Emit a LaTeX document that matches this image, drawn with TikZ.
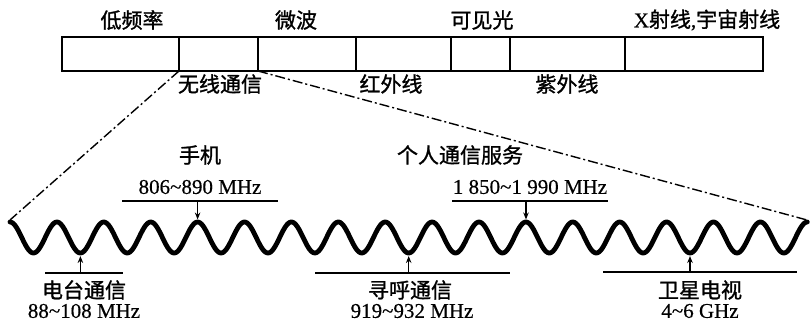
\documentclass[tikz,border=0pt]{standalone}
\usepackage{fontspec}
\setmainfont{Liberation Serif}[FakeBold=0.4]
\newfontfamily\cjk{Noto Sans CJK SC}[FakeBold=1.2]
\usetikzlibrary{arrows.meta}
\begin{document}
\begin{tikzpicture}[x=1pt,y=-1pt,
  cn/.style={font=\cjk\fontsize{21}{21}\selectfont, inner sep=0pt},
  en/.style={font=\fontsize{21}{21}\selectfont, inner sep=0pt},
  band/.style={draw, line width=1.7pt},
  zoomline/.style={line width=1.4pt, dash pattern=on 10pt off 3pt on 2pt off 3pt},
  tick/.style={line width=1.5pt},
  ptr/.style={line width=1.2pt, -{Stealth[length=7pt,width=5.5pt]}},
  wave/.style={line width=4.8pt, line cap=round, line join=round}]
\useasboundingbox (0,0) rectangle (812,321);

% spectrum band
\draw[band] (62,37) rectangle (763,71);
\foreach \xx/\nm in {179/d1,258/d2,356/d3,451/d4,510/d5,625/d6}{
  \coordinate (\nm t) at (\xx,37);
  \coordinate (\nm b) at (\xx,71);
  \draw[band] (\nm t) -- (\nm b);
}

% band labels
\node[cn] (lf) at (132,20) {低频率};
\node[cn] (mw) at (296,20) {微波};
\node[cn] (vis) at (482,20) {可见光};
\node[inner sep=0pt] (xr) at (707,20) {\fontsize{21}{21}\selectfont X{\cjk\fontsize{21}{21}\selectfont 射线},{\cjk\fontsize{21}{21}\selectfont 宇宙射线}};
\node[cn] (wl) at (220,84) {无线通信};
\node[cn] (ir) at (391,84) {红外线};
\node[cn] (uv) at (567,84) {紫外线};

% wave
\coordinate (ws) at (10,220);
\coordinate (we) at (807,220);
\draw[wave] plot[domain=10:807.3, samples=600, smooth, variable=\t]
  (\t, {237.5-15.5*cos(7.67591*(\t-10))});

% zoom lines
\draw[zoomline] (d1b) -- (ws);
\draw[zoomline] (d2b) -- (we);

% upper markers
\coordinate (pA1) at (122,201); \coordinate (pA2) at (278,201);
\coordinate (pAs) at (197.6,201); \coordinate (pAe) at (197.6,219.5);
\draw[tick] (pA1) -- (pA2);
\draw[ptr] (pAs) -- (pAe);
\node[cn] (phone) at (200,155) {手机};
\node[en] (phoneF) at (200,187) {806\textasciitilde 890 MHz};

\coordinate (pB1) at (452,201); \coordinate (pB2) at (608,201);
\coordinate (pBs) at (526,201); \coordinate (pBe) at (526,219.5);
\draw[tick] (pB1) -- (pB2);
\draw[ptr] (pBs) -- (pBe);
\node[cn] (pcs) at (460,155) {个人通信服务};
\node[en] (pcsF) at (530,187) {1 850\textasciitilde 1 990 MHz};

% lower markers
\coordinate (qA1) at (45,273); \coordinate (qA2) at (123,273);
\coordinate (qAs) at (80.4,273); \coordinate (qAe) at (80.4,256);
\draw[tick] (qA1) -- (qA2);
\draw[ptr] (qAs) -- (qAe);
\node[cn] (radio) at (84,290) {电台通信};
\node[en] (radioF) at (84,311) {88\textasciitilde 108 MHz};

\coordinate (qB1) at (315,273); \coordinate (qB2) at (510,273);
\coordinate (qBs) at (408.7,273); \coordinate (qBe) at (408.7,256);
\draw[tick] (qB1) -- (qB2);
\draw[ptr] (qBs) -- (qBe);
\node[cn] (pager) at (410,290) {寻呼通信};
\node[en] (pagerF) at (412,311) {919\textasciitilde 932 MHz};

\coordinate (qC1) at (603,272); \coordinate (qC2) at (797,272);
\coordinate (qCs) at (690,272); \coordinate (qCe) at (690,256);
\draw[tick] (qC1) -- (qC2);
\draw[ptr] (qCs) -- (qCe);
\node[cn] (sat) at (700,290) {卫星电视};
\node[en] (satF) at (700,311) {4\textasciitilde 6 GHz};
\end{tikzpicture}
\end{document}
